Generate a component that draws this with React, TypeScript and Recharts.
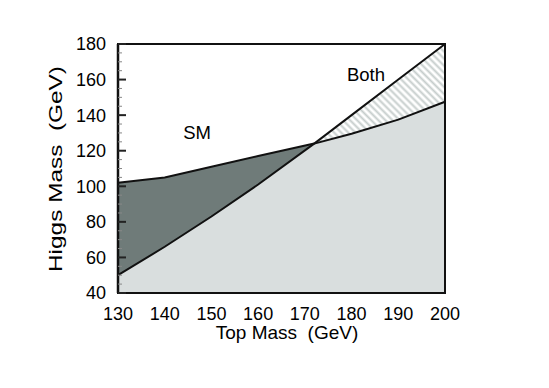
import {
  ComposedChart,
  Area,
  Line,
  XAxis,
  YAxis,
  ReferenceArea,
} from "recharts";

// Top mass (GeV) sampled along the two limit curves
const topMass = [130, 140, 150, 160, 172, 180, 190, 200];
// SM lower bound on the Higgs mass
const smLimit = [102, 105, 111, 117, 124, 129.5, 137.5, 147.5];
// MSSM upper bound on the Higgs mass
const mssmLimit = [50, 66, 83, 101, 124, 140, 160, 180];
const crossing = 172;

const xTicks = [130, 140, 150, 160, 170, 180, 190, 200];
const yTicks = [40, 60, 80, 100, 120, 140, 160, 180];
const yMinorTicks: number[] = [];
for (let v = 40; v <= 180; v += 5) yMinorTicks.push(v);

const regionLabels = ["SM", "Both", "MSSM"];

const rows = topMass.map((x, i) => {
  const sm = smLimit[i];
  const mssm = mssmLimit[i];
  return {
    x,
    sm,
    mssm,
    lower: Math.min(sm, mssm),
    dark: x <= crossing ? [mssm, sm] : null,
    both: x >= crossing ? [sm, mssm] : null,
  };
});

const font = "'Liberation Sans', Arial, Helvetica, sans-serif";

function YTick(props: any) {
  const { x, y, payload } = props;
  const major = yTicks.includes(payload.value);
  return (
    <g>
      <line
        x1={x}
        x2={x + (major ? 8 : 4)}
        y1={y}
        y2={y}
        stroke={major ? "#222" : "#888"}
        strokeWidth={major ? 2 : 1}
      />
      {major && (
        <text
          x={x - 12}
          y={y}
          dy="0.355em"
          textAnchor="end"
          fontSize={18}
          fontFamily={font}
          fill="#000"
        >
          {payload.value}
        </text>
      )}
    </g>
  );
}

export default function App() {
  return (
    <div style={{ position: "absolute", left: 0, top: 0, fontFamily: font }}>
      <ComposedChart
        width={549}
        height={388}
        data={rows}
        margin={{ top: 44, right: 104, bottom: 65, left: 58 }}
      >
        <defs>
          <pattern
            id="hatch"
            width="5"
            height="5"
            patternUnits="userSpaceOnUse"
            patternTransform="rotate(-45)"
          >
            <rect width="5" height="5" fill="#ffffff" />
            <line x1="2.5" y1="0" x2="2.5" y2="5" stroke="#c6cdcc" strokeWidth="2" />
          </pattern>
        </defs>
        <XAxis
          type="number"
          dataKey="x"
          domain={[130, 200]}
          ticks={xTicks}
          interval={0}
          tickLine={false}
          tickSize={0}
          tickMargin={14}
          axisLine={{ stroke: "#111", strokeWidth: 2 }}
          tick={{ fontSize: 18, fill: "#000", fontFamily: font }}
          height={30}
        />
        <YAxis
          type="number"
          domain={[40, 180]}
          ticks={yMinorTicks}
          interval={0}
          tickLine={false}
          tickSize={0}
          tickMargin={0}
          axisLine={{ stroke: "#111", strokeWidth: 2.5 }}
          tick={<YTick />}
          width={60}
        />
        <Area
          dataKey="lower"
          baseValue={40}
          type="linear"
          fill="#d9dede"
          fillOpacity={1}
          stroke="none"
          isAnimationActive={false}
        />
        <Area
          dataKey="dark"
          type="linear"
          fill="#6f7b79"
          fillOpacity={1}
          stroke="none"
          isAnimationActive={false}
        />
        <Area
          dataKey="both"
          type="linear"
          fill="url(#hatch)"
          fillOpacity={1}
          stroke="none"
          isAnimationActive={false}
        />
        <Line
          dataKey="sm"
          type="linear"
          stroke="#111"
          strokeWidth={2}
          dot={false}
          activeDot={false}
          isAnimationActive={false}
        />
        <Line
          dataKey="mssm"
          type="linear"
          stroke="#111"
          strokeWidth={2}
          dot={false}
          activeDot={false}
          isAnimationActive={false}
        />
        <ReferenceArea
          x1={130}
          x2={200}
          y1={40}
          y2={180}
          fill="none"
          stroke="#111"
          strokeWidth={2}
          ifOverflow="visible"
        />
        <text x={197} y={139} textAnchor="middle" fontSize={18.5} fontFamily={font} fill="#000">
          {regionLabels[0]}
        </text>
        <text x={366} y={80.5} textAnchor="middle" fontSize={18.5} fontFamily={font} fill="#000">
          {regionLabels[1]}
        </text>
        <text x={312.5} y={238} textAnchor="middle" fontSize={18.5} fontFamily={font} fill="#000">
          {regionLabels[2]}
        </text>
        <text
          x={287}
          y={339}
          textAnchor="middle"
          fontSize={19}
          fontFamily={font}
          fill="#000"
          style={{ whiteSpace: "pre" }}
        >
          {"Top Mass  (GeV)"}
        </text>
        <text
          x={62}
          y={169}
          textAnchor="middle"
          fontSize={19}
          fontFamily={font}
          fill="#000"
          textLength={206}
          lengthAdjust="spacingAndGlyphs"
          transform="rotate(-90 62 169)"
          style={{ whiteSpace: "pre" }}
        >
          {"Higgs Mass  (GeV)"}
        </text>
      </ComposedChart>
    </div>
  );
}
